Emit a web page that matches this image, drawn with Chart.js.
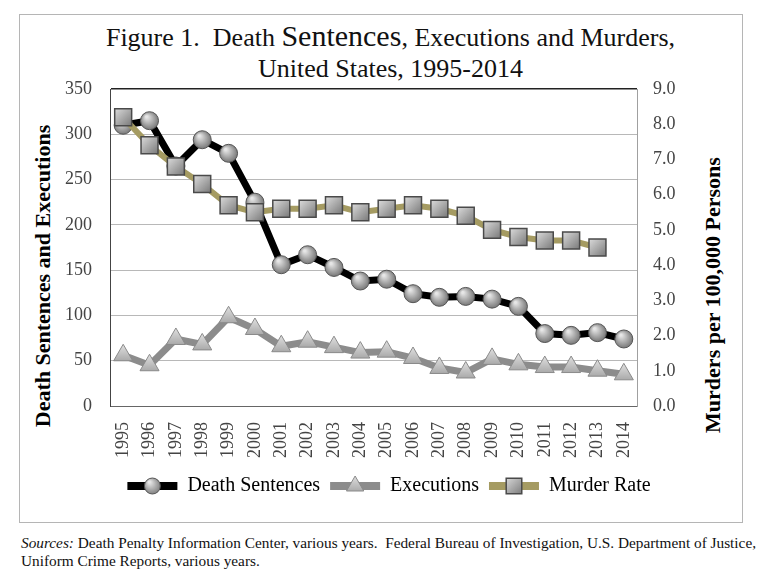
<!DOCTYPE html>
<html>
<head>
<meta charset="utf-8">
<script src="https://cdn.jsdelivr.net/npm/chart.js@4.4.1/dist/chart.umd.min.js"></script>
<style>
    body { margin: 0; background: #fff; font-family: "Liberation Serif", serif; }
    #frame { position: absolute; left: 19px; top: 14px; width: 722px; height: 507px; border: 1px solid #b5b5b5; }
    .title { position: absolute; left: 29px; width: 723px; text-align: center; font-size: 26px; line-height: 31px; color: #111; white-space: nowrap; }
    .title span { font-size: 30px; line-height: 0; }
    .axisTitle { position: absolute; white-space: nowrap; font-weight: bold; font-size: 22px; color: #000; transform: translate(-50%, -50%) rotate(-90deg); }
    #wrap { position: absolute; left: 19px; top: 60px; width: 723px; height: 460px; }
    #sources { position: absolute; left: 21px; top: 534px; font-size: 15.3px; line-height: 18px; color: #111; white-space: nowrap; }
</style>
</head>
<body>
<div id="frame"></div>
<div class="title" style="top:22px">Figure 1.&nbsp; Death <span>Sentences</span>, Executions and Murders,</div>
<div class="title" style="top:53px">United States, 1995-2014</div>
<div class="axisTitle" style="left:43px; top:276px">Death Sentences and Executions</div>
<div class="axisTitle" style="left:713px; top:295px">Murders per 100,000 Persons</div>
<div id="wrap"><canvas id="chart"></canvas></div>
<div id="sources"><i>Sources:</i> Death Penalty Information Center, various years.&nbsp; Federal Bureau of Investigation, U.S. Department of Justice,<br>Uniform Crime Reports, various years.</div>
<script>
// values
const years = ["1995", "1996", "1997", "1998", "1999", "2000", "2001", "2002", "2003", "2004",
    "2005", "2006", "2007", "2008", "2009", "2010", "2011", "2012", "2013", "2014"]
const deathSentences = [310, 315, 265, 294, 279, 225, 156, 167, 153, 138, 140, 124, 120, 121, 118, 110, 80, 78, 81, 74]
const executions = [56, 45, 74, 68, 98, 85, 66, 71, 65, 59, 60, 53, 42, 37, 52, 46, 43, 43, 39, 35]
const murderRate = [8.2, 7.4, 6.8, 6.3, 5.7, 5.5, 5.6, 5.6, 5.7, 5.5, 5.6, 5.7, 5.6, 5.4, 5.0, 4.8, 4.7, 4.7, 4.5, null]

const tickFont = { family: "Liberation Serif", size: 18 }
const flatFill = { circle: "#9d9d9d", triangle: "#c6c6c6", rect: "#a9a9a9" }

/**
 * Shaded fill for a marker centred on x, y
 * @param {CanvasRenderingContext2D} ctx
 * @param {string} style
 */
function shade(ctx, style, x, y) {
    if (!isFinite(x) || !isFinite(y)) return flatFill[style]
    if (style === "circle") {
        const g = ctx.createRadialGradient(x - 3, y - 4, 1, x, y, 10)
        g.addColorStop(0, "#e6e6e6")
        g.addColorStop(1, "#6f6f6f")
        return g
    }
    if (style === "rect") {
        const g = ctx.createLinearGradient(x - 8, y - 8, x + 8, y + 8)
        g.addColorStop(0, "#d8d8d8")
        g.addColorStop(1, "#7c7c7c")
        return g
    }
    const g = ctx.createLinearGradient(x, y - 10, x, y + 6)
    g.addColorStop(0, "#dddddd")
    g.addColorStop(1, "#a8a8a8")
    return g
}

/**
 * Scriptable point fill, placed through the chart's own scales
 */
function pointFill(context) {
    const chart = context.chart
    const ds = context.dataset
    if (context.type !== "data" || context.parsed == null || context.parsed.y == null) return flatFill[ds.pointStyle]
    const xScale = chart.scales.x
    const yScale = chart.scales[ds.yAxisID]
    if (!xScale || !yScale) return flatFill[ds.pointStyle]
    const x = xScale.getPixelForValue(context.dataIndex)
    const y = yScale.getPixelForValue(context.parsed.y)
    return shade(chart.ctx, ds.pointStyle, x, y)
}

/**
 * Draw the line + marker sample over each legend box
 */
const legendMarkers = {
    id: "legendMarkers",
    afterDraw(chart) {
        const legend = chart.legend
        if (!legend || !legend.legendHitBoxes) return
        const ctx = chart.ctx
        const boxWidth = legend.options.labels.boxWidth
        legend.legendHitBoxes.forEach((box, i) => {
            const ds = chart.data.datasets[i]
            const x = box.left + boxWidth / 2
            const y = box.top + box.height / 2
            ctx.save()
            ctx.fillStyle = shade(ctx, ds.pointStyle, x, y)
            ctx.strokeStyle = ds.pointBorderColor
            ctx.lineWidth = ds.pointBorderWidth
            Chart.helpers.drawPoint(ctx, {
                pointStyle: ds.pointStyle,
                radius: ds.pointRadius - 1,
                rotation: 0,
                borderWidth: ds.pointBorderWidth
            }, x, y)
            ctx.restore()
        })
    }
}

function main() {
    const ctx = document.getElementById("chart")
    new Chart(ctx, {
        type: "line",
        data: {
            labels: years,
            datasets: [
                {
                    label: "Death Sentences",
                    data: deathSentences,
                    yAxisID: "y",
                    borderColor: "#000",
                    borderWidth: 7,
                    pointStyle: "circle",
                    pointRadius: 9,
                    pointBackgroundColor: pointFill,
                    pointBorderColor: "#555",
                    pointBorderWidth: 1,
                    order: 1
                },
                {
                    label: "Executions",
                    data: executions,
                    yAxisID: "y",
                    borderColor: "#8c8c8c",
                    borderWidth: 7,
                    pointStyle: "triangle",
                    pointRadius: 11,
                    pointBackgroundColor: pointFill,
                    pointBorderColor: "#8a8a8a",
                    pointBorderWidth: 1,
                    order: 2
                },
                {
                    label: "Murder Rate",
                    data: murderRate,
                    yAxisID: "y1",
                    borderColor: "#a59b62",
                    borderWidth: 6,
                    pointStyle: "rect",
                    pointRadius: 12,
                    pointBackgroundColor: pointFill,
                    pointBorderColor: "#4a4a4a",
                    pointBorderWidth: 1.5,
                    order: 0
                }
            ]
        },
        options: {
            responsive: true,
            maintainAspectRatio: false,
            animation: false,
            layout: { padding: { left: 17, right: 0, top: 29, bottom: 14 } },
            plugins: {
                tooltip: { enabled: false },
                legend: {
                    position: "bottom",
                    labels: {
                        boxWidth: 50,
                        boxHeight: 8,
                        padding: 10,
                        color: "#222",
                        font: { family: "Liberation Serif", size: 20 },
                        generateLabels: chart => chart.data.datasets.map((ds, i) => ({
                            text: ds.label,
                            fillStyle: ds.borderColor,
                            strokeStyle: ds.borderColor,
                            lineWidth: 0,
                            hidden: false,
                            datasetIndex: i
                        }))
                    }
                }
            },
            scales: {
                x: {
                    offset: true,
                    grid: { display: false },
                    border: { color: "#666", width: 1 },
                    ticks: { autoSkip: false, maxRotation: 90, minRotation: 90, padding: 8, color: "#444", font: tickFont },
                    afterFit: scale => { scale.height = 60 }
                },
                y: {
                    position: "left",
                    min: 0,
                    max: 350,
                    ticks: { stepSize: 50, padding: 18, color: "#444", font: tickFont },
                    grid: {
                        drawTicks: false,
                        color: c => c.tick.value === 350 ? "#222" : (c.tick.value === 0 ? "rgba(0,0,0,0)" : "#b8b8b8"),
                        lineWidth: c => c.tick.value === 350 ? 1.5 : 1
                    },
                    border: { color: "#444", width: 1 },
                    afterFit: scale => { scale.width = 74 }
                },
                y1: {
                    position: "right",
                    min: 0,
                    max: 9,
                    ticks: { stepSize: 1, padding: 16, color: "#444", font: tickFont, callback: v => v.toFixed(1) },
                    grid: { display: false, drawTicks: false },
                    border: { color: "#a0a0a0", width: 1 },
                    afterFit: scale => { scale.width = 105 }
                }
            }
        },
        plugins: [legendMarkers]
    })
}

window.onload = main
</script>
</body>
</html>
